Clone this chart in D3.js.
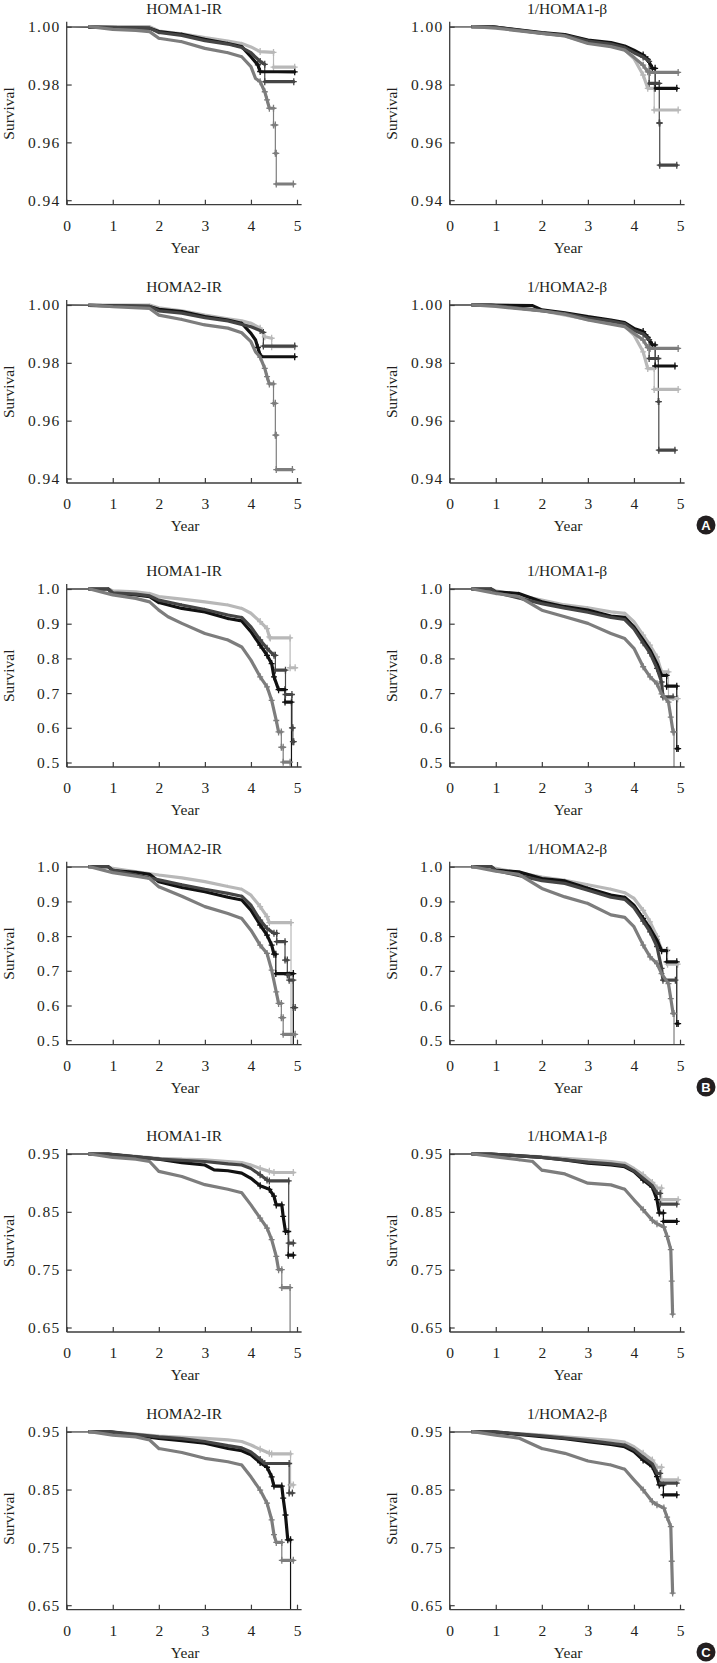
<!DOCTYPE html>
<html><head><meta charset="utf-8">
<script src="https://cdn.jsdelivr.net/npm/d3@7"></script>
<style>body{margin:0;background:#fff} svg{display:block}</style>
</head><body><svg id="c" width="717" height="1663"></svg>
<script>
// ---------- DATA ----------
const yearTicks = [0,1,2,3,4,5];
const ticksA = [0.94,0.96,0.98,1.00];
const ticksB = [0.5,0.6,0.7,0.8,0.9,1.0];
const ticksC = [0.65,0.75,0.85,0.95];
const titles = ["HOMA1-IR","1/HOMA1-\u03b2","HOMA2-IR","1/HOMA2-\u03b2"];
const badges = ["A","B","C"];

// Panel A
const a1Light=[[0,1],[1.8,1],[2,0.9985],[2.5,0.9975],[3,0.9962],[3.5,0.995],[3.8,0.9942],[4,0.993],[4.2,0.9914],[4.49,0.9911],[4.49,0.986],[4.95,0.986]];
const a1Black=[[0,1],[1.8,0.9995],[2,0.9983],[2.5,0.9974],[3,0.9956],[3.5,0.9942],[3.8,0.9931],[4,0.9896],[4.15,0.9868],[4.2,0.9845],[4.95,0.9844]];
const a1Dark=[[0,1],[1.8,0.9995],[2,0.998],[2.5,0.997],[3,0.9952],[3.5,0.994],[3.8,0.9928],[4,0.991],[4.2,0.988],[4.3,0.987],[4.3,0.981],[4.93,0.981]];
const a1Mid=[[0,1],[0.5,1],[1,0.9991],[1.5,0.9987],[1.8,0.9983],[2,0.996],[2.5,0.9948],[3,0.9925],[3.5,0.991],[3.8,0.9896],[4,0.9862],[4.1,0.9821],[4.2,0.981],[4.3,0.9775],[4.35,0.9747],[4.4,0.9718],[4.49,0.9718],[4.49,0.966],[4.53,0.966],[4.53,0.9562],[4.55,0.9562],[4.55,0.9456],[4.92,0.9456]];

const a2Light=[[0,1],[1.8,1],[2,0.999],[2.5,0.998],[3,0.9965],[3.5,0.9952],[3.8,0.9945],[4,0.9937],[4.2,0.992],[4.3,0.989],[4.45,0.9885],[4.45,0.9856],[4.95,0.9856]];
const a2Black=[[0,1],[1.8,0.9995],[2,0.9985],[2.5,0.9977],[3,0.996],[3.5,0.9948],[3.8,0.9937],[4,0.9902],[4.1,0.9879],[4.15,0.9853],[4.2,0.9826],[4.22,0.9821],[4.95,0.9821]];
const a2Dark=[[0,1],[1.8,0.9995],[2,0.998],[2.5,0.9972],[3,0.9956],[3.5,0.9945],[3.8,0.9933],[4,0.9925],[4.2,0.9912],[4.27,0.9905],[4.27,0.9858],[4.95,0.9858]];
const a2Mid=[[0,1],[0.5,1],[1,0.9994],[1.8,0.9988],[2,0.9965],[2.5,0.995],[3,0.9931],[3.5,0.992],[3.8,0.9904],[4,0.9873],[4.1,0.9838],[4.2,0.982],[4.3,0.9781],[4.35,0.9752],[4.4,0.9727],[4.49,0.9727],[4.49,0.966],[4.53,0.966],[4.53,0.955],[4.55,0.955],[4.55,0.9431],[4.9,0.9431]];

const a3Light=[[0,1],[0.9,1],[2,0.9977],[2.5,0.9968],[3,0.9945],[3.5,0.9935],[3.8,0.992],[4,0.989],[4.2,0.9833],[4.3,0.9787],[4.44,0.9787],[4.44,0.9712],[4.96,0.9712]];
const a3Black=[[0,1],[0.9,1],[2,0.998],[2.5,0.9973],[3,0.9954],[3.5,0.9945],[3.8,0.9933],[4,0.9919],[4.2,0.9902],[4.3,0.9887],[4.4,0.9856],[4.46,0.9856],[4.46,0.9787],[4.93,0.9787]];
const a3Dark=[[0,1],[0.9,1],[2,0.9978],[2.5,0.997],[3,0.995],[3.5,0.994],[3.8,0.9928],[4,0.991],[4.2,0.9895],[4.33,0.988],[4.33,0.9804],[4.55,0.9804],[4.55,0.9667],[4.56,0.9667],[4.56,0.9521],[4.93,0.9521]];
const a3Mid=[[0,1],[0.5,1],[1,0.9995],[2,0.9977],[2.5,0.9968],[3,0.9942],[3.5,0.9931],[3.8,0.9919],[4,0.9894],[4.2,0.9867],[4.3,0.9844],[4.35,0.9842],[4.96,0.9842]];

const a4Light=[[0,1],[0.9,1],[2,0.998],[3,0.995],[3.5,0.9936],[3.8,0.9927],[4,0.9896],[4.2,0.9838],[4.3,0.978],[4.44,0.978],[4.44,0.9708],[4.96,0.9708]];
const a4Black=[[0,1],[0.9,1],[1.8,0.9998],[2,0.9983],[2.5,0.9973],[3,0.996],[3.5,0.9948],[3.8,0.9939],[4,0.9919],[4.2,0.9908],[4.3,0.9888],[4.4,0.9862],[4.46,0.9862],[4.46,0.9789],[4.89,0.9789]];
const a4Dark=[[0,1],[0.9,1],[2,0.998],[2.5,0.997],[3,0.9955],[3.5,0.9944],[3.8,0.9935],[4,0.9912],[4.2,0.99],[4.33,0.988],[4.33,0.9815],[4.53,0.9815],[4.53,0.9666],[4.54,0.9666],[4.54,0.9498],[4.89,0.9498]];
const a4Mid=[[0,1],[0.5,1],[1,0.9995],[2,0.998],[2.5,0.9968],[3,0.9948],[3.5,0.9934],[3.8,0.9925],[4,0.9902],[4.2,0.9879],[4.3,0.9853],[4.35,0.985],[4.96,0.985]];

// Panel B
const b1Light=[[0,1],[0.9,1],[1,0.995],[1.5,0.992],[1.8,0.987],[2,0.978],[2.5,0.971],[3,0.963],[3.5,0.954],[3.8,0.944],[4,0.93],[4.2,0.906],[4.35,0.886],[4.4,0.862],[4.42,0.859],[4.85,0.859],[4.85,0.773],[4.96,0.773]];
const b1Black=[[0,1],[0.9,1],[1,0.987],[1.5,0.983],[1.8,0.978],[2,0.961],[2.5,0.944],[3,0.934],[3.5,0.915],[3.8,0.908],[4,0.877],[4.2,0.838],[4.35,0.809],[4.45,0.785],[4.5,0.747],[4.6,0.71],[4.74,0.71],[4.74,0.674],[4.88,0.674],[4.88,0]];
const b1Dark=[[0,1],[0.9,1],[1,0.989],[1.5,0.985],[1.8,0.98],[2,0.968],[2.5,0.954],[3,0.941],[3.5,0.925],[3.8,0.918],[4,0.891],[4.2,0.853],[4.35,0.829],[4.5,0.809],[4.53,0.809],[4.53,0.766],[4.75,0.766],[4.75,0.696],[4.89,0.696],[4.89,0.6],[4.91,0.6],[4.91,0.56],[4.93,0.56]];
const b1Mid=[[0,1],[0.5,1],[1,0.983],[1.5,0.973],[1.8,0.963],[2,0.939],[2.2,0.92],[2.5,0.901],[3,0.872],[3.5,0.853],[3.8,0.833],[4,0.795],[4.2,0.747],[4.35,0.718],[4.45,0.679],[4.55,0.621],[4.6,0.588],[4.66,0.588],[4.66,0.544],[4.7,0.544],[4.7,0.501],[4.85,0.501]];

const b2Light=[[0,1],[0.9,1],[1,0.995],[2,0.976],[2.5,0.968],[3,0.957],[3.5,0.943],[3.8,0.935],[4,0.918],[4.2,0.885],[4.35,0.856],[4.4,0.839],[4.87,0.839],[4.87,0]];
const b2Black=[[0,1],[0.9,1],[1,0.989],[1.5,0.984],[1.8,0.978],[2,0.957],[2.5,0.94],[3,0.928],[3.5,0.912],[3.8,0.904],[4,0.875],[4.2,0.832],[4.35,0.803],[4.45,0.774],[4.5,0.748],[4.54,0.748],[4.54,0.692],[4.92,0.692],[4.92,0]];
const b2Dark=[[0,1],[0.9,1],[1,0.99],[2,0.962],[2.5,0.948],[3,0.935],[3.5,0.923],[3.8,0.915],[4,0.889],[4.2,0.846],[4.35,0.822],[4.5,0.808],[4.56,0.808],[4.56,0.784],[4.74,0.784],[4.74,0.731],[4.79,0.731],[4.79,0.688],[4.83,0.688],[4.83,0.673],[4.92,0.673],[4.92,0.594],[4.96,0.594]];
const b2Mid=[[0,1],[0.5,1],[1,0.983],[1.5,0.973],[1.8,0.966],[2,0.942],[2.5,0.915],[3,0.885],[3.5,0.865],[3.8,0.851],[4,0.817],[4.2,0.774],[4.35,0.75],[4.45,0.702],[4.55,0.639],[4.6,0.606],[4.66,0.606],[4.66,0.565],[4.7,0.565],[4.7,0.517],[4.96,0.517]];

const b3Light=[[0,1],[0.9,1],[1,0.995],[2,0.968],[2.5,0.954],[3,0.946],[3.5,0.934],[3.8,0.93],[4,0.906],[4.2,0.867],[4.35,0.838],[4.5,0.804],[4.6,0.761],[4.75,0.761],[4.75,0.684],[4.95,0.684]];
const b3Black=[[0,1],[0.9,1],[1,0.992],[1.5,0.987],[2,0.963],[2.5,0.949],[3,0.939],[3.5,0.922],[3.8,0.918],[4,0.891],[4.2,0.853],[4.35,0.824],[4.5,0.785],[4.6,0.751],[4.71,0.751],[4.71,0.72],[4.93,0.72],[4.93,0.54],[4.96,0.54]];
const b3Dark=[[0,1],[0.9,1],[1,0.99],[2,0.958],[2.5,0.945],[3,0.933],[3.5,0.918],[3.8,0.912],[4,0.885],[4.2,0.845],[4.35,0.815],[4.5,0.771],[4.6,0.732],[4.63,0.689],[4.85,0.689]];
const b3Mid=[[0,1],[0.5,1],[1,0.987],[1.5,0.978],[2,0.939],[2.5,0.92],[3,0.901],[3.5,0.872],[3.8,0.857],[4,0.829],[4.2,0.776],[4.35,0.747],[4.5,0.727],[4.6,0.698],[4.75,0.674],[4.8,0.631],[4.85,0.588],[4.87,0.588],[4.87,0]];

const b4Light=[[0,1],[0.9,1],[1,0.995],[2,0.97],[2.5,0.961],[3,0.948],[3.5,0.935],[3.8,0.925],[4,0.909],[4.2,0.874],[4.35,0.841],[4.5,0.799],[4.6,0.76],[4.73,0.76],[4.73,0.719],[4.95,0.719]];
const b4Black=[[0,1],[0.9,1],[1,0.99],[1.5,0.985],[2,0.966],[2.5,0.959],[3,0.938],[3.5,0.918],[3.8,0.912],[4,0.889],[4.2,0.851],[4.35,0.822],[4.5,0.788],[4.6,0.758],[4.71,0.758],[4.71,0.726],[4.93,0.726],[4.93,0.548],[4.96,0.548]];
const b4Dark=[[0,1],[0.9,1],[1,0.989],[2,0.96],[2.5,0.952],[3,0.932],[3.5,0.912],[3.8,0.906],[4,0.882],[4.2,0.843],[4.35,0.812],[4.5,0.77],[4.6,0.707],[4.63,0.673],[4.9,0.673]];
const b4Mid=[[0,1],[0.5,1],[1,0.987],[1.5,0.978],[2,0.9375],[2.5,0.913],[3,0.894],[3.5,0.861],[3.8,0.854],[4,0.827],[4.2,0.774],[4.35,0.74],[4.5,0.721],[4.6,0.692],[4.75,0.663],[4.8,0.62],[4.85,0.577],[4.87,0.577],[4.87,0]];

// Panel C
const c1Light=[[0,0.95],[0.9,0.95],[1,0.9495],[2,0.9425],[2.5,0.941],[3,0.94],[3.5,0.937],[3.8,0.935],[4,0.931],[4.2,0.925],[4.4,0.92],[4.5,0.918],[4.92,0.918]];
const c1Dark=[[0,0.95],[0.9,0.95],[1,0.949],[2,0.941],[2.5,0.939],[3,0.937],[3.5,0.933],[3.8,0.931],[4,0.925],[4.2,0.914],[4.35,0.905],[4.4,0.9035],[4.82,0.9035],[4.82,0.796],[4.92,0.796]];
const c1Black=[[0,0.95],[0.9,0.95],[1,0.949],[2,0.941],[2.5,0.935],[3,0.931],[3.2,0.9225],[3.5,0.921],[3.8,0.917],[4,0.908],[4.2,0.895],[4.4,0.889],[4.5,0.877],[4.55,0.862],[4.67,0.862],[4.7,0.842],[4.75,0.816],[4.81,0.816],[4.81,0.775],[4.92,0.775]];
const c1Mid=[[0,0.95],[0.5,0.95],[1,0.944],[1.5,0.941],[1.8,0.937],[2,0.92],[2.5,0.911],[3,0.897],[3.5,0.889],[3.8,0.883],[4,0.862],[4.2,0.839],[4.35,0.822],[4.45,0.802],[4.55,0.773],[4.6,0.75],[4.67,0.75],[4.67,0.719],[4.85,0.719],[4.85,0]];

const c2Light=[[0,0.95],[0.9,0.95],[2,0.9425],[3,0.9385],[3.5,0.936],[3.8,0.933],[4,0.927],[4.2,0.9195],[4.4,0.9126],[4.45,0.9115],[4.86,0.9115],[4.86,0.858],[4.92,0.858]];
const c2Dark=[[0,0.95],[0.9,0.95],[2,0.941],[2.5,0.938],[3,0.933],[3.5,0.926],[3.8,0.922],[4,0.915],[4.2,0.902],[4.3,0.895],[4.83,0.895],[4.83,0.844],[4.9,0.844]];
const c2Black=[[0,0.95],[0.9,0.95],[2,0.9385],[2.5,0.9345],[3,0.93],[3.5,0.921],[3.8,0.917],[4,0.91],[4.2,0.8966],[4.35,0.8885],[4.45,0.872],[4.5,0.856],[4.67,0.856],[4.7,0.835],[4.75,0.806],[4.8,0.763],[4.86,0.763],[4.86,0]];
const c2Mid=[[0,0.95],[0.5,0.95],[1,0.944],[1.5,0.941],[1.8,0.9356],[2,0.921],[2.5,0.914],[3,0.904],[3.5,0.898],[3.8,0.8925],[4,0.872],[4.2,0.849],[4.35,0.8264],[4.45,0.7977],[4.5,0.772],[4.55,0.7586],[4.67,0.7586],[4.67,0.7276],[4.92,0.7276]];

const c3Light=[[0,0.95],[0.9,0.95],[2,0.945],[3,0.94],[3.5,0.937],[3.8,0.934],[4,0.925],[4.2,0.914],[4.4,0.9007],[4.5,0.891],[4.6,0.891],[4.6,0.871],[4.96,0.871]];
const c3Dark=[[0,0.95],[0.9,0.95],[2,0.944],[3,0.936],[3.5,0.933],[3.8,0.93],[4,0.921],[4.2,0.908],[4.4,0.895],[4.5,0.882],[4.57,0.882],[4.57,0.8634],[4.93,0.8634]];
const c3Black=[[0,0.95],[0.9,0.95],[2,0.944],[2.5,0.9397],[3,0.934],[3.5,0.931],[3.8,0.928],[4,0.9196],[4.2,0.905],[4.4,0.8926],[4.5,0.871],[4.55,0.848],[4.64,0.848],[4.64,0.8335],[4.93,0.8335]];
const c3Mid=[[0,0.95],[0.5,0.95],[1,0.945],[1.5,0.94],[1.8,0.937],[2,0.922],[2.5,0.9156],[3,0.8995],[3.5,0.8966],[3.8,0.889],[4,0.8708],[4.2,0.8536],[4.4,0.8353],[4.5,0.8295],[4.65,0.8238],[4.72,0.8077],[4.8,0.7848],[4.82,0.7302],[4.84,0.673]];

const c4Light=[[0,0.95],[0.9,0.95],[2,0.944],[3,0.938],[3.5,0.935],[3.8,0.932],[4,0.924],[4.2,0.9126],[4.4,0.901],[4.5,0.8885],[4.6,0.8885],[4.6,0.8667],[4.96,0.8667]];
const c4Dark=[[0,0.95],[0.9,0.95],[2,0.943],[3,0.935],[3.5,0.93],[3.8,0.927],[4,0.919],[4.2,0.906],[4.4,0.894],[4.5,0.878],[4.57,0.878],[4.57,0.861],[4.93,0.861]];
const c4Black=[[0,0.95],[0.9,0.95],[2,0.9414],[2.5,0.938],[3,0.9328],[3.5,0.928],[3.8,0.924],[4,0.9155],[4.2,0.901],[4.4,0.8897],[4.5,0.8724],[4.55,0.858],[4.64,0.858],[4.64,0.8408],[4.93,0.8408]];
const c4Mid=[[0,0.95],[0.5,0.95],[1,0.944],[1.5,0.939],[2,0.921],[2.5,0.9126],[3,0.8994],[3.5,0.8925],[3.8,0.885],[4,0.8667],[4.2,0.8494],[4.4,0.829],[4.5,0.8236],[4.65,0.818],[4.72,0.8022],[4.8,0.786],[4.82,0.726],[4.84,0.671]];

// ---------- LAYOUT ----------
const seriesColors = ["#b8b8b8","#111111","#454545","#7d7d7d"]; // light, black, dark, mid
const panels = [
  {title:titles[0],col:0,row:0,ticks:ticksA,fmt:".2f",series:[a1Light,a1Black,a1Dark,a1Mid]},
  {title:titles[1],col:1,row:0,ticks:ticksA,fmt:".2f",series:[a3Light,a3Black,a3Dark,a3Mid]},
  {title:titles[2],col:0,row:1,ticks:ticksA,fmt:".2f",series:[a2Light,a2Black,a2Dark,a2Mid]},
  {title:titles[3],col:1,row:1,ticks:ticksA,fmt:".2f",series:[a4Light,a4Black,a4Dark,a4Mid]},
  {title:titles[0],col:0,row:2,ticks:ticksB,fmt:".1f",series:[b1Light,b1Black,b1Dark,b1Mid]},
  {title:titles[1],col:1,row:2,ticks:ticksB,fmt:".1f",series:[b3Light,b3Black,b3Dark,b3Mid]},
  {title:titles[2],col:0,row:3,ticks:ticksB,fmt:".1f",series:[b2Light,b2Black,b2Dark,b2Mid]},
  {title:titles[3],col:1,row:3,ticks:ticksB,fmt:".1f",series:[b4Light,b4Black,b4Dark,b4Mid]},
  {title:titles[0],col:0,row:4,ticks:ticksC,fmt:".2f",series:[c1Light,c1Black,c1Dark,c1Mid]},
  {title:titles[1],col:1,row:4,ticks:ticksC,fmt:".2f",series:[c3Light,c3Black,c3Dark,c3Mid]},
  {title:titles[2],col:0,row:5,ticks:ticksC,fmt:".2f",series:[c2Light,c2Black,c2Dark,c2Mid]},
  {title:titles[3],col:1,row:5,ticks:ticksC,fmt:".2f",series:[c4Light,c4Black,c4Dark,c4Mid]}
];

const svg = d3.select("#c");
const colX = [66.7, 449.7];
const rowY = [26.7, 305, 589, 866.7, 1154, 1431.7];
const plotW = 230.3, plotH = 173.5;
const font = "'Liberation Serif','Times New Roman',serif";
const txt = "#231f20";
const axisCol = "#3d3d3d";
const defs = svg.append("defs");

panels.forEach((p,i)=>{
  const x0 = colX[p.col], y0 = rowY[p.row];
  const x = d3.scaleLinear().domain([0,5]).range([x0, x0+plotW]);
  const y = d3.scaleLinear().domain([p.ticks[0], p.ticks[p.ticks.length-1]]).range([y0+plotH, y0]);
  const axisY = y0 + plotH + 4.5;
  const xEnd = x(5.1);
  const g = svg.append("g");

  defs.append("clipPath").attr("id","cl"+i).append("rect")
    .attr("x",x0).attr("y",y0-8).attr("width",xEnd-x0+4).attr("height",axisY-(y0-8));
  defs.append("clipPath").attr("id","ct"+i).append("rect")
    .attr("x",x(0.47)).attr("y",y0-8).attr("width",xEnd-x(0.47)+4).attr("height",axisY-(y0-8));

  // title
  g.append("text").attr("x",(x0+xEnd)/2).attr("y",y0-13).attr("text-anchor","middle")
    .attr("font-family",font).attr("font-size",15.5).attr("fill",txt).text(p.title);

  // curves
  const cg = g.append("g").attr("clip-path","url(#cl"+i+")");
  const tg = g.append("g").attr("clip-path","url(#ct"+i+")");
  const line = d3.line().x(d=>x(d[0])).y(d=>y(d[1]));
  p.series.forEach((s,k)=>{
    const col = seriesColors[k];
    cg.append("path").attr("d",line(s)).attr("fill","none").attr("stroke",col).attr("stroke-width",1.2);
    const pth = d3.path();
    for (let j=0;j<s.length-1;j++){
      if (s[j][0]!==s[j+1][0]) { pth.moveTo(x(s[j][0]),y(s[j][1])); pth.lineTo(x(s[j+1][0]),y(s[j+1][1])); }
    }
    tg.append("path").attr("d",pth.toString()).attr("fill","none").attr("stroke",col)
      .attr("stroke-width",3.2).attr("stroke-linecap","round");
    // censoring marks in the tail
    const marks = s.filter(d=>d[0]>=4.15 && d[1]>=p.ticks[0]-0.005);
    marks.forEach(d=>{
      cg.append("path").attr("d",`M${x(d[0])-3},${y(d[1])}h6M${x(d[0])},${y(d[1])-3.5}v7`)
        .attr("stroke",col).attr("stroke-width",1.3).attr("fill","none");
    });
  });

  // axes
  g.append("line").attr("x1",x0).attr("x2",x0).attr("y1",y0-5).attr("y2",axisY)
    .attr("stroke",axisCol).attr("stroke-width",1.3);
  g.append("line").attr("x1",x0).attr("x2",xEnd).attr("y1",axisY).attr("y2",axisY)
    .attr("stroke",axisCol).attr("stroke-width",1.3);

  const ya = d3.axisLeft(y).tickValues(p.ticks).tickFormat(d3.format(p.fmt))
    .tickSizeInner(-5).tickSizeOuter(0).tickPadding(6);
  const yg = g.append("g").attr("transform",`translate(${x0},0)`).call(ya);
  yg.select(".domain").remove();
  yg.selectAll(".tick line").attr("stroke",axisCol).attr("stroke-width",1.2);
  yg.selectAll("text").attr("font-family",font).attr("font-size",15.5).attr("fill",txt).attr("letter-spacing",1.4);

  const xa = d3.axisBottom(x).tickValues(yearTicks).tickFormat(d3.format("d"))
    .tickSizeInner(-5).tickSizeOuter(0).tickPadding(15);
  const xg = g.append("g").attr("transform",`translate(0,${axisY})`).call(xa);
  xg.select(".domain").remove();
  xg.selectAll(".tick line").attr("stroke",axisCol).attr("stroke-width",1.2);
  xg.selectAll("text").attr("font-family",font).attr("font-size",15.5).attr("fill",txt);

  g.append("text").attr("x",(x0+xEnd)/2+1).attr("y",axisY+48).attr("text-anchor","middle")
    .attr("font-family",font).attr("font-size",15.5).attr("fill",txt).text("Year");
  g.append("text").attr("transform",`translate(${x0-58},${y0+plotH/2}) rotate(-90)`)
    .attr("text-anchor","middle").attr("dominant-baseline","central")
    .attr("font-family",font).attr("font-size",15.5).attr("fill",txt).text("Survival");
});

// badges
const badgeY = [525, 1087, 1652];
badges.forEach((b,i)=>{
  const bg = svg.append("g").attr("transform",`translate(706,${badgeY[i]})`);
  bg.append("circle").attr("r",9.5).attr("fill","#231f20");
  bg.append("text").attr("text-anchor","middle").attr("dy","0.36em")
    .attr("font-family","'Liberation Sans',Arial,sans-serif").attr("font-weight","bold")
    .attr("font-size",13).attr("fill","#fff").text(b);
});
</script>
</body></html>
